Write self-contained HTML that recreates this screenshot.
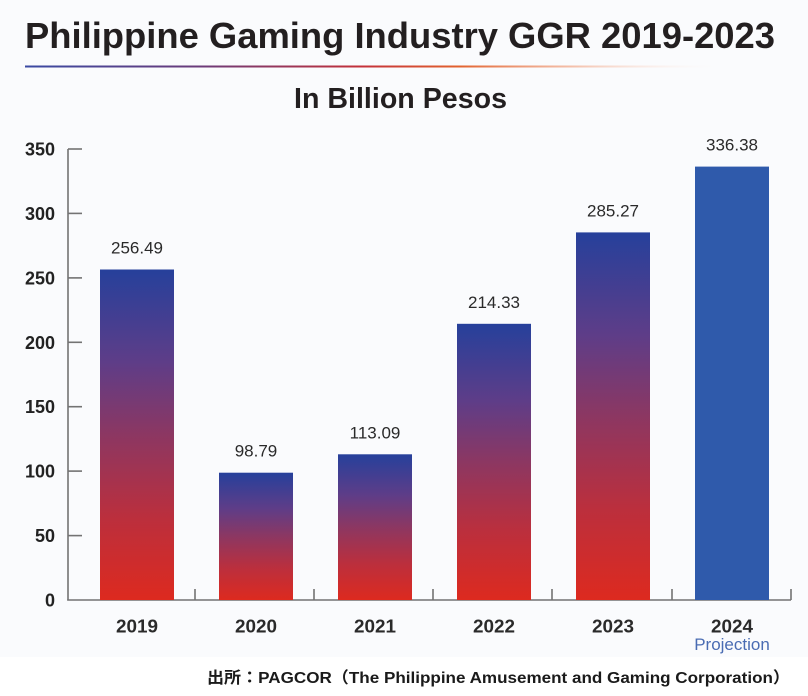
<!DOCTYPE html>
<html>
<head>
<meta charset="utf-8">
<style>
  html,body{margin:0;padding:0;background:#ffffff;}
  svg{display:block;}
</style>
</head>
<body>
<svg width="808" height="696" viewBox="0 0 808 696" xmlns="http://www.w3.org/2000/svg">
  <defs>
    <linearGradient id="barg" x1="0" y1="0" x2="0" y2="1">
      <stop offset="0" stop-color="#26409b"/>
      <stop offset="0.28" stop-color="#5e3d88"/>
      <stop offset="0.5" stop-color="#8c3762"/>
      <stop offset="0.75" stop-color="#bb2f3d"/>
      <stop offset="1" stop-color="#dd2a1f"/>
    </linearGradient>
    <linearGradient id="lineg" x1="0" y1="0" x2="1" y2="0">
      <stop offset="0" stop-color="#3a4aa3"/>
      <stop offset="0.25" stop-color="#6b3b7a"/>
      <stop offset="0.48" stop-color="#c4313a"/>
      <stop offset="0.62" stop-color="#e2622e"/>
      <stop offset="0.78" stop-color="#f1a585" stop-opacity="0.7"/>
      <stop offset="1" stop-color="#ffffff" stop-opacity="0"/>
    </linearGradient>
  </defs>

  <rect x="0" y="0" width="808" height="657" fill="#fafbfd"/>

  <!-- Title -->
  <text x="25" y="48" font-family="'Liberation Sans', sans-serif" font-weight="bold" font-size="36" fill="#231f20" textLength="750" lengthAdjust="spacingAndGlyphs">Philippine Gaming Industry GGR 2019-2023</text>
  <rect x="25" y="65.5" width="700" height="2" fill="url(#lineg)"/>
  <text x="294" y="108" font-family="'Liberation Sans', sans-serif" font-weight="bold" font-size="29" fill="#231f20" textLength="213" lengthAdjust="spacingAndGlyphs">In Billion Pesos</text>

  <!-- Y axis -->
  <g stroke="#737373" stroke-width="1.6" fill="none">
    <line x1="68" y1="149" x2="68" y2="600.5"/>
    <line x1="68" y1="149" x2="82" y2="149"/>
    <line x1="68" y1="213.4" x2="82" y2="213.4"/>
    <line x1="68" y1="277.9" x2="82" y2="277.9"/>
    <line x1="68" y1="342.3" x2="82" y2="342.3"/>
    <line x1="68" y1="406.7" x2="82" y2="406.7"/>
    <line x1="68" y1="471.1" x2="82" y2="471.1"/>
    <line x1="68" y1="535.6" x2="82" y2="535.6"/>
    <line x1="67.2" y1="600" x2="791" y2="600"/>
    <line x1="195" y1="589" x2="195" y2="600"/>
    <line x1="314" y1="589" x2="314" y2="600"/>
    <line x1="433" y1="589" x2="433" y2="600"/>
    <line x1="552" y1="589" x2="552" y2="600"/>
    <line x1="672" y1="589" x2="672" y2="600"/>
    <line x1="791" y1="589" x2="791" y2="600"/>
  </g>
  <g font-family="'Liberation Sans', sans-serif" font-weight="bold" font-size="18" fill="#222" text-anchor="end">
    <text x="55" y="155.5">350</text>
    <text x="55" y="219.9">300</text>
    <text x="55" y="284.4">250</text>
    <text x="55" y="348.8">200</text>
    <text x="55" y="413.2">150</text>
    <text x="55" y="477.6">100</text>
    <text x="55" y="542.1">50</text>
    <text x="55" y="606.5">0</text>
  </g>

  <!-- Bars -->
  <rect x="100" y="269.5" width="74" height="330.5" fill="url(#barg)"/>
  <rect x="219" y="472.7" width="74" height="127.3" fill="url(#barg)"/>
  <rect x="338" y="454.3" width="74" height="145.7" fill="url(#barg)"/>
  <rect x="457" y="323.8" width="74" height="276.2" fill="url(#barg)"/>
  <rect x="576" y="232.4" width="74" height="367.6" fill="url(#barg)"/>
  <rect x="695" y="166.6" width="74" height="433.4" fill="#2f5aab"/>

  <!-- Value labels -->
  <g font-family="'Liberation Sans', sans-serif" font-size="17" fill="#2a2a2a" text-anchor="middle">
    <text x="137" y="253.5">256.49</text>
    <text x="256" y="456.7">98.79</text>
    <text x="375" y="438.3">113.09</text>
    <text x="494" y="307.8">214.33</text>
    <text x="613" y="216.4">285.27</text>
    <text x="732" y="150.6">336.38</text>
  </g>

  <!-- Category labels -->
  <g font-family="'Liberation Sans', sans-serif" font-weight="bold" font-size="18" fill="#2a2a2a">
    <text x="116" y="632.5" textLength="42" lengthAdjust="spacingAndGlyphs">2019</text>
    <text x="235" y="632.5" textLength="42" lengthAdjust="spacingAndGlyphs">2020</text>
    <text x="354" y="632.5" textLength="42" lengthAdjust="spacingAndGlyphs">2021</text>
    <text x="473" y="632.5" textLength="42" lengthAdjust="spacingAndGlyphs">2022</text>
    <text x="592" y="632.5" textLength="42" lengthAdjust="spacingAndGlyphs">2023</text>
    <text x="711" y="632.5" textLength="42" lengthAdjust="spacingAndGlyphs">2024</text>
  </g>
  <text x="732" y="650" font-family="'Liberation Sans', sans-serif" font-size="17" fill="#4a6cb3" text-anchor="middle">Projection</text>

  <!-- Footer -->
  <text x="207" y="683" font-family="'Liberation Sans', 'Noto Sans CJK JP', sans-serif" font-weight="bold" font-size="16" fill="#1a1a1a" textLength="583" lengthAdjust="spacingAndGlyphs">出所：PAGCOR（The Philippine Amusement and Gaming Corporation）</text>
</svg>
</body>
</html>
